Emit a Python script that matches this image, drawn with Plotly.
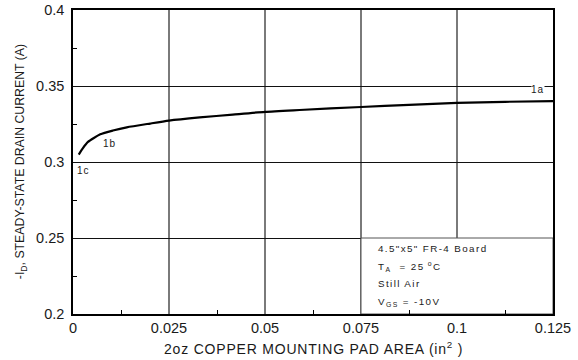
import plotly.graph_objects as go

# Steady-state drain current vs. copper mounting pad area
pad_area = [0.0015, 0.0025, 0.0039, 0.0071, 0.0104, 0.0140, 0.0201, 0.0250,
            0.0330, 0.0416, 0.0500, 0.0590, 0.0750, 0.0875, 0.1000, 0.1125, 0.1250]
drain_current = [0.3049, 0.3088, 0.3132, 0.3182, 0.3207, 0.3228, 0.3253, 0.3272,
                 0.3293, 0.3312, 0.3330, 0.3342, 0.3362, 0.3376, 0.3389, 0.3396, 0.3401]

x_ticks = [0, 0.025, 0.05, 0.075, 0.1, 0.125]
x_tick_text = ["0", "0.025", "0.05", "0.075", "0.1", "0.125"]
y_ticks = [0.2, 0.25, 0.3, 0.35, 0.4]
y_tick_text = ["0.2", "0.25", "0.3", "0.35", "0.4"]

point_labels = ["1c", "1b", "1a"]
point_label_x = [0.0027, 0.0097, 0.1210]
point_label_y = [0.2945, 0.3123, 0.3478]

conditions = ["4.5\"x5\" FR-4 Board",
              "T<sub>A</sub>  = 25<sup> o</sup>C",
              "Still Air",
              "V<sub>GS</sub> = -10V"]
condition_y = [0.2433, 0.2315, 0.2198, 0.2078]

x_title = "2oz COPPER MOUNTING PAD AREA (in<sup>2</sup> )"
y_title = "-I<sub>D</sub>, STEADY-STATE DRAIN CURRENT (A)"

FONT = "Liberation Sans, Arial, sans-serif"
INK = "#1a1a1a"

fig = go.Figure()
fig.add_trace(go.Scatter(x=pad_area, y=drain_current, mode="lines",
                         line=dict(color="black", width=2.2, shape="spline", smoothing=0.6),
                         hoverinfo="skip", showlegend=False))

# letter spacing applied to each annotation, by index
tracking = []

for txt, lx, ly in zip(point_labels, point_label_x, point_label_y):
    fig.add_annotation(x=lx, y=ly, text=txt, showarrow=False,
                       font=dict(family=FONT, size=10, color=INK),
                       bgcolor="white" if txt == "1a" else None, borderpad=0)
    tracking.append(1.0)

# conditions box (covers the grid in the lower-right cell)
fig.add_shape(type="rect", x0=0.075, x1=0.125, y0=0.2, y1=0.25, layer="between",
              fillcolor="white", line=dict(color="#555", width=1))
for txt, cy in zip(conditions, condition_y):
    fig.add_annotation(x=0.0788, y=cy, text=txt, showarrow=False, xanchor="left",
                       align="left", font=dict(family=FONT, size=9.8, color=INK))
    tracking.append(1.4)

# axis titles
fig.add_annotation(xref="paper", yref="paper", x=0.5, y=-0.112, yanchor="middle",
                   text=x_title, showarrow=False,
                   font=dict(family=FONT, size=14, color=INK))
tracking.append(0.8)
fig.add_annotation(xref="paper", yref="paper", x=-0.108, y=0.5, textangle=-90,
                   xanchor="center", yanchor="middle", text=y_title, showarrow=False,
                   font=dict(family=FONT, size=12.3, color=INK))
tracking.append(0.0)

fig.update_xaxes(range=[0, 0.125], tickvals=x_ticks, ticktext=x_tick_text,
                 showgrid=True, gridcolor="#7a7a7a", gridwidth=1.6,
                 showline=True, linecolor="black", linewidth=1.5, mirror=True,
                 ticks="", zeroline=False, automargin=False,
                 minor=dict(tickvals=[0.0125, 0.0375, 0.0625, 0.0875, 0.1125],
                            ticks="inside", ticklen=4, tickcolor="black", showgrid=False),
                 tickfont=dict(family=FONT, size=14.5, color=INK))
fig.update_yaxes(range=[0.2, 0.4], tickvals=y_ticks, ticktext=y_tick_text,
                 showgrid=True, gridcolor="#111", gridwidth=1,
                 showline=True, linecolor="black", linewidth=1.5, mirror=True,
                 ticks="", zeroline=False, ticklabelstandoff=4, automargin=False,
                 minor=dict(tickvals=[0.225, 0.275, 0.325, 0.375],
                            ticks="inside", ticklen=4, tickcolor="black", showgrid=False),
                 tickfont=dict(family=FONT, size=14.5, color=INK))

fig.update_layout(width=578, height=360, plot_bgcolor="white", paper_bgcolor="white",
                  margin=dict(l=73, r=25, t=10, b=46))

spacing_js = """
var gd = document.getElementById('{plot_id}');
var tracking = %s;
function track() {
  gd.querySelectorAll('g.annotation').forEach(function (g) {
    var i = +g.getAttribute('data-index');
    var t = g.querySelector('text');
    if (t && tracking[i]) { t.style.letterSpacing = tracking[i] + 'px'; }
  });
}
track();
gd.on('plotly_afterplot', track);
""" % str(tracking)

fig.write_html("out.html", post_script=spacing_js)
